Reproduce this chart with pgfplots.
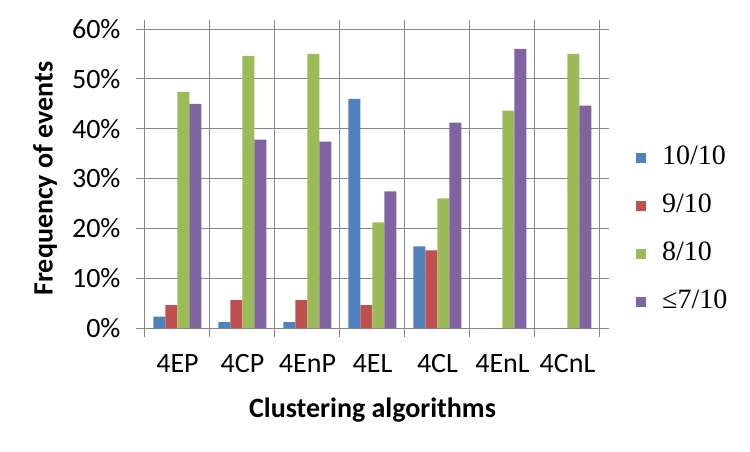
\documentclass[border=0pt]{standalone}
\usepackage{fontspec}
\setmainfont{Carlito}
\newfontfamily\legendfont{Liberation Serif}
\usepackage{pgfplots}
\pgfplotsset{compat=1.18}
\definecolor{cA}{HTML}{4F81BD}
\definecolor{cB}{HTML}{C0504D}
\definecolor{cC}{HTML}{9BBB59}
\definecolor{cD}{HTML}{8064A2}
\definecolor{gridc}{HTML}{878787}
\begin{document}
\begin{tikzpicture}
\useasboundingbox (0,0) rectangle (750pt,451pt);
\begin{axis}[
  at={(145pt,123pt)}, anchor=south west,
  scale only axis, width=455pt, height=299pt,
  ybar=0pt, bar width=12pt,
  xmin=-0.5, xmax=6.5, ymin=0, ymax=60,
  enlargelimits=false,
  axis line style={gridc, line width=1pt},
  tick style={gridc, line width=1pt},
  major grid style={gridc, line width=1pt},
  tick align=outside, major tick length=9pt,
  xtick={-0.5,0.5,...,6.5}, xticklabels={},
  xmajorgrids=true,
  extra x ticks={0,1,2,3,4,5,6},
  extra x tick labels={4EP,4CP,4EnP,4EL,4CL,4EnL,4CnL},
  extra x tick style={major tick length=0pt, grid=none},
  ytick={0,10,...,60},
  yticklabels={0\%,10\%,20\%,30\%,40\%,50\%,60\%},
  ymajorgrids=true,
  tick label style={font=\fontsize{28}{34}\selectfont, black},
  xticklabel style={yshift=-23pt},
  yticklabel style={xshift=-12pt},
  xlabel={Clustering algorithms},
  ylabel={Frequency of events},
  label style={font=\fontsize{28}{34}\selectfont\bfseries},
  xlabel style={at={(axis description cs:0.5,-0.274)}, anchor=center},
  ylabel style={at={(axis description cs:-0.2198,0.5)}, anchor=center},
  legend style={at={(axis description cs:1.0791,0.612)}, anchor=north west,
    draw=none, fill=none, inner sep=0pt, row sep=23pt,
    font=\fontsize{28}{34}\selectfont\legendfont,
    nodes={inner sep=0pt, text height=19pt, text depth=6pt},
    /tikz/every odd column/.append style={column sep=16pt}},
  legend cell align=left,
  legend image code/.code={\fill[#1] (0pt,-5pt) rectangle (10pt,5pt);},
]
\addplot[fill=cA, draw=none] coordinates {(0,2.3) (1,1.2) (2,1.2) (3,46.0) (4,16.4) (5,0) (6,0)};
\addplot[fill=cB, draw=none] coordinates {(0,4.6) (1,5.6) (2,5.6) (3,4.6) (4,15.6) (5,0) (6,0)};
\addplot[fill=cC, draw=none] coordinates {(0,47.4) (1,54.6) (2,55.0) (3,21.2) (4,26.0) (5,43.6) (6,55.0)};
\addplot[fill=cD, draw=none] coordinates {(0,45.0) (1,37.8) (2,37.4) (3,27.4) (4,41.2) (5,56.0) (6,44.6)};
\legend{10/10,9/10,8/10,≤7/10}
\end{axis}
\end{tikzpicture}
\end{document}
